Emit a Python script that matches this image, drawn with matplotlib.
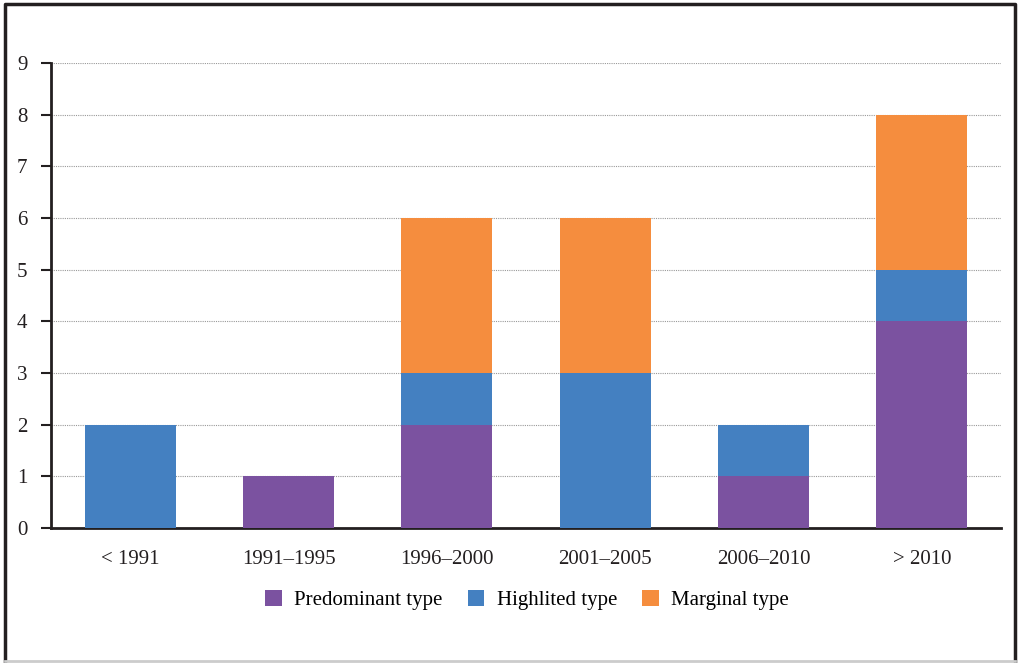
import matplotlib.pyplot as plt
from matplotlib.lines import Line2D

categories = ["< 1991", "1991\u20131995", "1996\u20132000", "2001\u20132005", "2006\u20132010", "> 2010"]
predominant = [0, 1, 2, 0, 1, 4]
highlited = [2, 0, 1, 3, 1, 1]
marginal = [0, 0, 3, 3, 0, 3]
y_ticks = list(range(0, 10))

plt.rcParams["font.family"] = ["Liberation Serif", "DejaVu Serif"]
plt.rcParams["font.size"] = 15

fig = plt.figure(figsize=(10.19, 6.63), dpi=100)
ax = fig.add_axes([51 / 1019, 1 - 528 / 663, 950 / 1019, 465 / 663])

x = range(len(categories))
w = 0.575
ax.bar(x, predominant, w, color="#7B52A0", label="Predominant type", zorder=3)
ax.bar(x, highlited, w, bottom=predominant, color="#4480C1", label="Highlited type", zorder=3)
base = [p + h for p, h in zip(predominant, highlited)]
ax.bar(x, marginal, w, bottom=base, color="#F58D3E", label="Marginal type", zorder=3)

ax.set_xlim(-0.5, len(categories) - 0.5)
ax.set_ylim(0, 9)
ax.set_yticks(y_ticks)
ax.set_xticks(list(x))
ax.set_xticklabels(categories, color="#231f20")
ax.tick_params(axis="x", length=0, pad=16)
ax.tick_params(axis="y", length=7, width=1.5, color="#231f20", labelcolor="#231f20", pad=10)
ax.yaxis.grid(True, linestyle=(0, (1, 1)), color="#999999", linewidth=0.8, zorder=0)
for s in ["top", "right"]:
    ax.spines[s].set_visible(False)
for s in ["left", "bottom"]:
    ax.spines[s].set_linewidth(2)
    ax.spines[s].set_color("#231f20")

fig.legend(loc="center", bbox_to_anchor=(527 / 1019, 1 - 600 / 663), ncol=3, frameon=False,
           handlelength=0.8, handleheight=0.8, handletextpad=0.6, columnspacing=1.2, fontsize=15)

# frame round the figure: dark on three sides, light grey at the bottom
L, R, T, B = 5 / 1019, 1015 / 1019, 1 - 4 / 663, 1 - 661 / 663
fig.add_artist(Line2D([L, L, R, R], [B, T, T, B], transform=fig.transFigure, color="#231f20", linewidth=2.5))
fig.add_artist(Line2D([L, R], [B, B], transform=fig.transFigure, color="#cccccc", linewidth=2))

fig.savefig("out.png", dpi=100)
